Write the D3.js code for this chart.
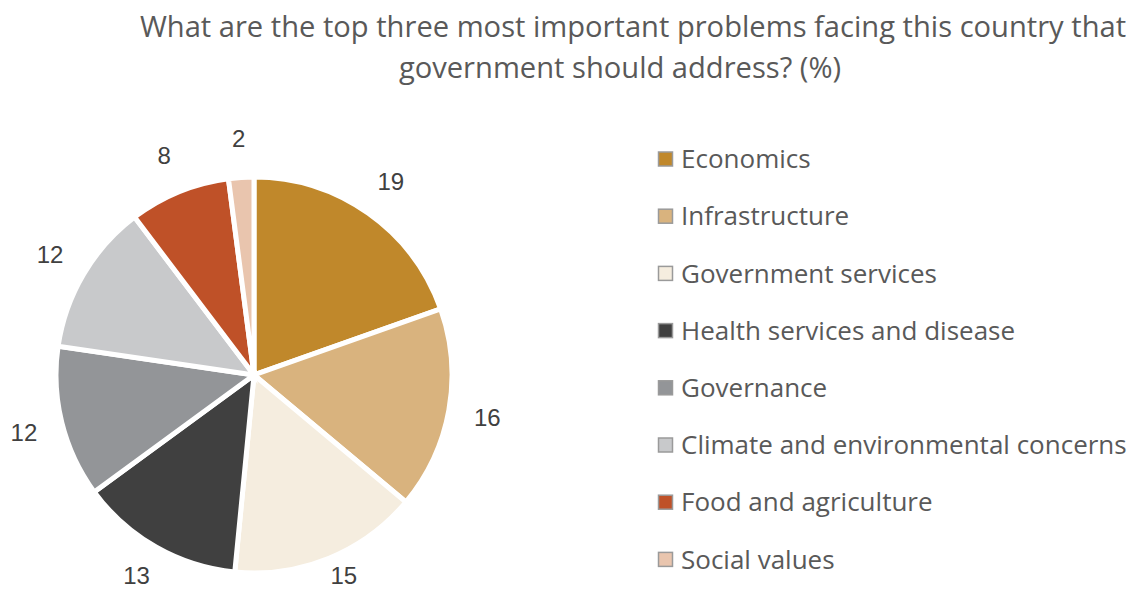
<!DOCTYPE html>
<html>
<head>
<meta charset="utf-8">
<script src="https://cdn.jsdelivr.net/npm/d3@7"></script>
<style>
  html, body { margin: 0; padding: 0; background: #ffffff; }
  svg { display: block; }
  .heading, .legend-label { font-family: "Open Sans", "Noto Sans", sans-serif; fill: #595959; }
  .value { font-family: "Liberation Sans", Arial, sans-serif; fill: #404040; }
</style>
</head>
<body>
<svg id="chart" width="1131" height="591"></svg>
<script>
// Survey shares (%) for each problem area
const categories = [
  "Economics",
  "Infrastructure",
  "Government services",
  "Health services and disease",
  "Governance",
  "Climate and environmental concerns",
  "Food and agriculture",
  "Social values"
];
const values = [19, 16, 15, 13, 12, 12, 8, 2];
const colors = ["#C0882B", "#D9B37E", "#F5EDDF", "#404040", "#939598", "#C8C9CB", "#BF5128", "#E9C5AE"];
const titleLines = [
  "What are the top three most important problems facing this country that",
  "government should address? (%)"
];

const svg = d3.select("#chart");
const height = 591;

// Scale a text's font size so it spans the wanted width
function fitWidth(sel, base, target) {
  sel.style("font-size", base + "px");
  const w = sel.node().getComputedTextLength();
  const size = base * target / w;
  sel.style("font-size", size + "px");
  return size;
}

// Title
const t1 = svg.append("text").attr("class", "heading")
  .attr("x", 633).attr("y", 37).attr("text-anchor", "middle")
  .text(titleLines[0]);
const titleSize = fitWidth(t1, 26, 987);
svg.append("text").attr("class", "heading")
  .attr("x", 620).attr("y", 78).attr("text-anchor", "middle")
  .style("font-size", titleSize + "px")
  .text(titleLines[1]);

// Pie
const cx = 254, cy = 375, radius = 198, labelRadius = 237;
const data = categories.map((c, i) => ({ name: c, value: values[i], color: colors[i] }));

const pie = d3.pie().sort(null).value(d => d.value);
const arc = d3.arc().innerRadius(0).outerRadius(radius);
const labelArc = d3.arc().innerRadius(labelRadius).outerRadius(labelRadius);
const arcs = pie(data);

const g = svg.append("g").attr("transform", `translate(${cx},${cy})`);
g.selectAll("path.slice")
  .data(arcs)
  .join("path")
  .attr("class", "slice")
  .attr("d", arc)
  .attr("fill", d => d.data.color)
  .attr("stroke", "#ffffff")
  .attr("stroke-width", 5)
  .attr("stroke-linejoin", "miter");

// Value labels sit outside each slice, kept from dropping below the chart's lower edge
const maxLabelY = height - 16 - cy;
g.selectAll("text.value")
  .data(arcs)
  .join("text")
  .attr("class", "value")
  .attr("transform", d => {
    const [x, y] = labelArc.centroid(d);
    return `translate(${x},${Math.min(y, maxLabelY)})`;
  })
  .attr("text-anchor", "middle")
  .attr("dy", "0.36em")
  .style("font-size", "24px")
  .text(d => d.data.value);

// Legend
const legend = svg.append("g").attr("transform", "translate(658,159)");
const rowStep = 57.2;
const rows = legend.selectAll("g.row")
  .data(data)
  .join("g")
  .attr("class", "row")
  .attr("transform", (d, i) => `translate(0,${i * rowStep})`);
rows.append("rect")
  .attr("x", 0.5).attr("y", -7)
  .attr("width", 14).attr("height", 14)
  .attr("fill", d => d.color)
  .attr("stroke", "#9a9a9a")
  .attr("stroke-width", 1.5);
const labels = rows.append("text")
  .attr("class", "legend-label")
  .attr("x", 23).attr("y", 0)
  .attr("dy", "0.35em")
  .text(d => d.name);
// Size the legend text from its longest entry
const longest = labels.filter(d => d.name === "Climate and environmental concerns");
const legendSize = fitWidth(longest, 22, 446);
labels.style("font-size", legendSize + "px");
</script>
</body>
</html>
